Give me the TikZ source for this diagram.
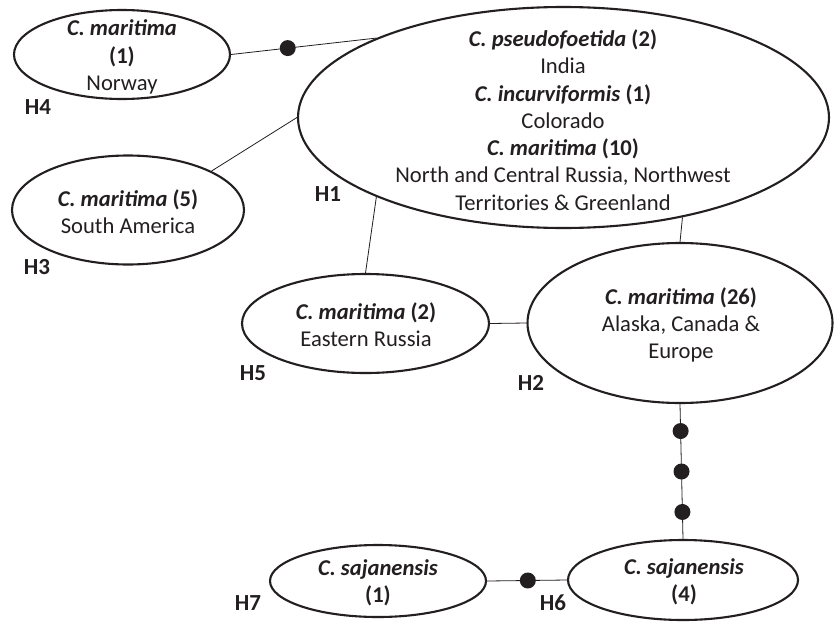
\documentclass[tikz,border=0pt]{standalone}
\usepackage{fontspec}
\setmainfont{Carlito}
\usetikzlibrary{shapes.geometric}
\definecolor{ink}{RGB}{35,31,32}
\tikzset{
  hap/.style={draw=ink, ellipse, line width=2.1pt, inner sep=0pt},
  txt/.style={align=center, text=ink, inner sep=0pt, font=\fontsize{22.6}{27.3}\selectfont},
  lab/.style={text=ink, inner sep=0pt, font=\fontsize{23}{26}\selectfont\bfseries},
  link/.style={draw=ink, line width=0.8pt},
  mut/.style={circle, fill=ink, inner sep=0pt, minimum size=16pt}
}
\newcommand{\spn}[2]{\textbf{\textit{#1}} \textbf{(#2)}}
\begin{document}
\begin{tikzpicture}[x=1pt, y=-1pt]
\path[use as bounding box, fill=white] (0,0) rectangle (834,621);

% haplotype ellipses
\node[hap, minimum width=531pt, minimum height=221pt] (h1) at (563.5,117.5) {};
\node[hap, minimum width=305pt, minimum height=160pt] (h2) at (680,323) {};
\node[hap, minimum width=232pt, minimum height=109pt] (h3) at (128,210) {};
\node[hap, minimum width=216pt, minimum height=89pt] (h4) at (122,54.5) {};
\node[hap, minimum width=247pt, minimum height=99pt] (h5) at (365.5,323.5) {};
\node[hap, minimum width=230pt, minimum height=80pt] (h6) at (683,580) {};
\node[hap, minimum width=216pt, minimum height=72pt] (h7) at (378,581) {};

% texts
\node[txt] (t1) at (563,120) {\spn{C. pseudofoetida}{2}\\India\\\spn{C. incurviformis}{1}\\Colorado\\\spn{C. maritima}{10}\\North and Central Russia, Northwest\\Territories \& Greenland};
\node[txt] (t2) at (681,325) {\spn{C. maritima}{26}\\Alaska, Canada \&\\Europe};
\node[txt] (t3) at (128,212) {\spn{C. maritima}{5}\\South America};
\node[txt] (t4) at (122,57) {\textbf{\textit{C. maritima}}\\\textbf{(1)}\\Norway};
\node[txt] (t5) at (366,325) {\spn{C. maritima}{2}\\Eastern Russia};
\node[txt] (t6) at (684,582) {\textbf{\textit{C. sajanensis}}\\\textbf{(4)}};
\node[txt] (t7) at (378,583) {\textbf{\textit{C. sajanensis}}\\\textbf{(1)}};

% labels
\node[lab] (l1) at (328,194) {H1};
\node[lab] (l2) at (531,383) {H2};
\node[lab] (l3) at (37,267) {H3};
\node[lab] (l4) at (38,107) {H4};
\node[lab] (l5) at (253,373) {H5};
\node[lab] (l6) at (553,603) {H6};
\node[lab] (l7) at (248,603) {H7};

% connectors
\draw[link] (h4.east) -- node[mut, pos=0.39] (m1) {} (h1.157);
\draw[link] (h3.25) -- (h1.180);
\draw[link] (h5.north) -- (h1.203);
\draw[link] (h2.north) -- (h1.-40);
\draw[link] (h5.east) -- (h2.west);
\draw[link] (h2.south) -- node[mut, pos=0.2] (m2) {} node[mut, pos=0.5] (m3) {} node[mut, pos=0.8] (m4) {} (h6.north);
\draw[link] (h7.east) -- node[mut, pos=0.51] (m5) {} (h6.west);
\end{tikzpicture}
\end{document}
